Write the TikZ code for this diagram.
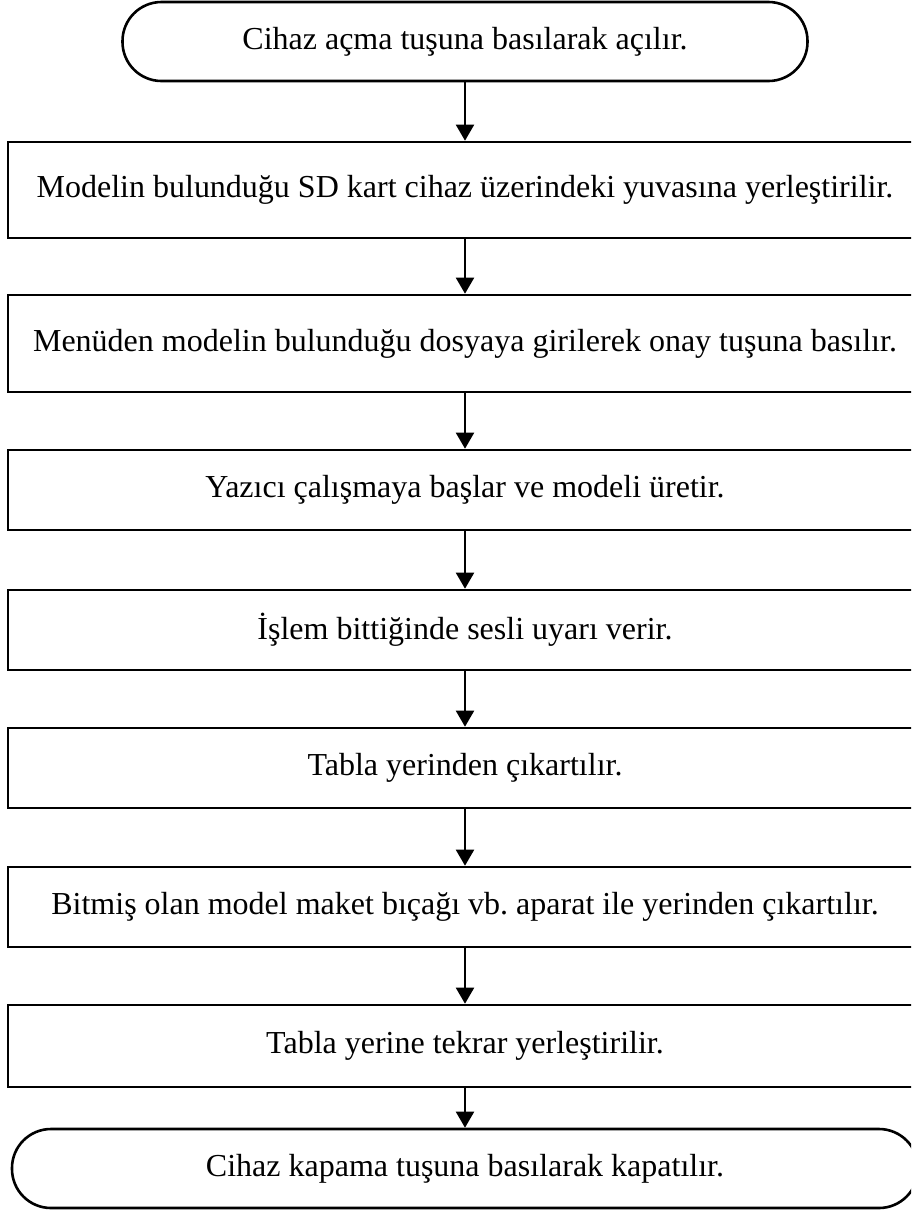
\documentclass[tikz,border=0pt]{standalone}
\usepackage{fontspec}
\setmainfont{Liberation Serif}
\usetikzlibrary{arrows.meta}
\frenchspacing
\begin{document}
\begin{tikzpicture}[x=1pt,y=-1pt,
  every node/.style={font=\fontsize{32}{36}\selectfont, align=center, inner sep=0pt},
  procbox/.style={draw, line width=2.6pt, minimum width=914pt},
  termbox/.style={draw, line width=2.6pt, rounded corners=39pt, minimum height=79pt},
  flow/.style={line width=2pt, -{Triangle[length=16pt,width=18pt]}}]
\useasboundingbox (0,0) rectangle (911,1211);
\clip (0,0) rectangle (911,1211);
\node[termbox, minimum width=685pt] (t1) at (465,41.5) {Cihaz açma tuşuna basılarak açılır.};
\node[procbox, minimum height=96pt] (b1) at (465,190) {Modelin bulunduğu SD kart cihaz üzerindeki yuvasına yerleştirilir.};
\node[procbox, minimum height=97pt] (b2) at (465,343.5) {Menüden modelin bulunduğu dosyaya girilerek onay tuşuna basılır.};
\node[procbox, minimum height=80pt] (b3) at (465,490) {Yazıcı çalışmaya başlar ve modeli üretir.};
\node[procbox, minimum height=80pt] (b4) at (465,630) {İşlem bittiğinde sesli uyarı verir.};
\node[procbox, minimum height=80pt] (b5) at (465,768) {Tabla yerinden çıkartılır.};
\node[procbox, minimum height=80pt] (b6) at (465,907) {Bitmiş olan model maket bıçağı vb.\ aparat ile yerinden çıkartılır.};
\node[procbox, minimum height=82pt] (b7) at (465,1046) {Tabla yerine tekrar yerleştirilir.};
\node[termbox, minimum width=906pt] (t2) at (465,1168.5) {Cihaz kapama tuşuna basılarak kapatılır.};
\draw[flow] (t1) -- (b1);
\draw[flow] (b1) -- (b2);
\draw[flow] (b2) -- (b3);
\draw[flow] (b3) -- (b4);
\draw[flow] (b4) -- (b5);
\draw[flow] (b5) -- (b6);
\draw[flow] (b6) -- (b7);
\draw[flow] (b7) -- (t2);
\end{tikzpicture}
\end{document}
